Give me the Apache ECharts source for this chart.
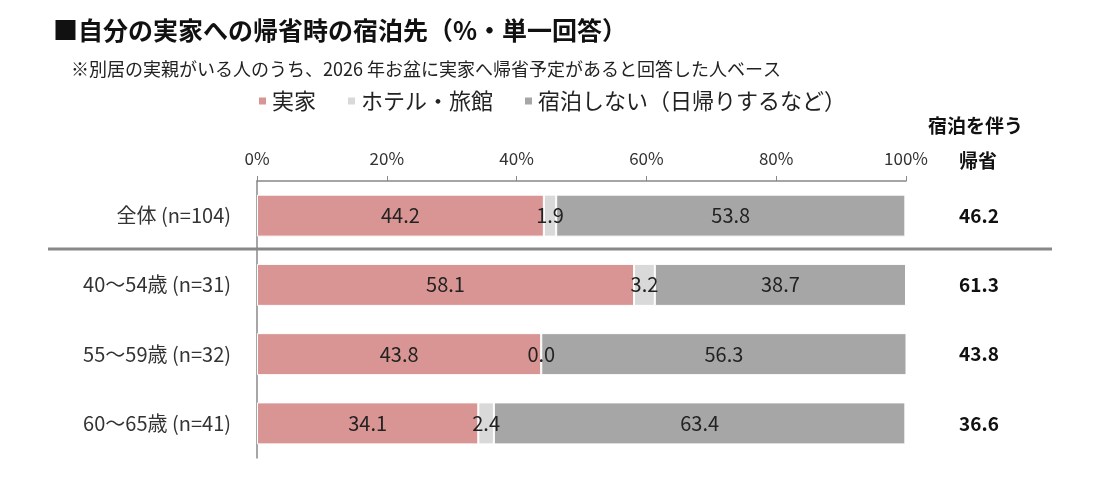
<!DOCTYPE html>
<html>
<head>
<meta charset="utf-8">
<script src="https://cdn.jsdelivr.net/npm/echarts@6/dist/echarts.min.js"></script>
<style>
  html, body { margin: 0; padding: 0; background: #fff; }
  #chart { width: 1099px; height: 479px; }
</style>
</head>
<body>
<div id="chart"></div>
<script>
// 帰省時の宿泊先（%・単一回答）
var categories = ["全体 (n=104)", "40～54歳 (n=31)", "55～59歳 (n=32)", "60～65歳 (n=41)"];
var seriesNames = ["実家", "ホテル・旅館", "宿泊しない（日帰りするなど）"];
var jikka = [44.2, 58.1, 43.8, 34.1];
var hotel = [1.9, 3.2, 0.0, 2.4];
var higaeri = [53.8, 38.7, 56.3, 63.4];
var withStay = [46.2, 61.3, 43.8, 36.6];
var xTicks = [0, 20, 40, 60, 80, 100];

var colors = ["#D99594", "#D9D9D9", "#A6A6A6"];
var font = "'Noto Sans CJK JP', 'Noto Sans', sans-serif";

var chart = echarts.init(document.getElementById("chart"));

function barSeries(name, data, color) {
    return {
        name: name,
        type: "bar",
        stack: "total",
        barWidth: 42,
        data: data,
        itemStyle: { color: color, borderColor: "#fff", borderWidth: 1 },
        label: {
            show: true,
            position: "inside",
            formatter: function (p) { return p.value.toFixed(1) },
            color: "#222",
            fontSize: 20,
            fontFamily: font
        },
        labelLayout: { hideOverlap: false },
        emphasis: { disabled: true }
    }
}

var option = {
    animation: false,
    textStyle: { fontFamily: font },
    title: [
        {
            text: "■自分の実家への帰省時の宿泊先（%・単一回答）",
            left: 48, top: 13,
            textStyle: { fontSize: 25, fontWeight: "bold", color: "#111", fontFamily: font }
        },
        {
            text: "※別居の実親がいる人のうち、2026 年お盆に実家へ帰省予定があると回答した人ベース",
            left: 66, top: 55,
            textStyle: { fontSize: 18, fontWeight: "normal", color: "#222", fontFamily: font }
        }
    ],
    legend: {
        data: seriesNames,
        left: 252, top: 85,
        itemWidth: 9, itemHeight: 9,
        itemGap: 30,
        icon: "rect",
        textStyle: { fontSize: 22, color: "#222", fontFamily: font }
    },
    grid: { left: 257, right: 193, top: 181, bottom: 21 },
    xAxis: {
        type: "value",
        position: "top",
        min: 0, max: 100, interval: 20,
        axisLine: { show: true, lineStyle: { color: "#888", width: 1.5 } },
        axisTick: { show: true, inside: false, length: 5, lineStyle: { color: "#888" } },
        splitLine: { show: false },
        axisLabel: {
            formatter: function (v) { return xTicks.indexOf(v) >= 0 ? v + "%" : "" },
            fontSize: 17, color: "#333", margin: 14, fontFamily: font
        }
    },
    yAxis: [
        {
            type: "category",
            data: categories,
            inverse: true,
            axisLine: { show: true, lineStyle: { color: "#888", width: 1.5 } },
            axisTick: { show: false },
            axisLabel: { fontSize: 20, color: "#333", margin: 26, fontFamily: font }
        },
        {
            type: "category",
            data: categories,
            inverse: true,
            position: "right",
            axisLine: { show: false },
            axisTick: { show: false },
            axisLabel: {
                formatter: function (v, i) { return withStay[i].toFixed(1) },
                fontSize: 19, fontWeight: "bold", color: "#111",
                align: "center", margin: 73, fontFamily: font
            }
        }
    ],
    graphic: [
        {
            type: "line",
            shape: { x1: 48, y1: 249, x2: 1052, y2: 249 },
            style: { stroke: "#888", lineWidth: 3 }
        },
        {
            type: "text",
            left: 928, top: 116,
            style: { text: "宿泊を伴う", font: "bold 19px " + font, fill: "#111" }
        },
        {
            type: "text",
            left: 959, top: 151,
            style: { text: "帰省", font: "bold 19px " + font, fill: "#111" }
        }
    ],
    series: [
        barSeries(seriesNames[0], jikka, colors[0]),
        barSeries(seriesNames[1], hotel, colors[1]),
        barSeries(seriesNames[2], higaeri, colors[2])
    ]
};

chart.setOption(option);
</script>
</body>
</html>
